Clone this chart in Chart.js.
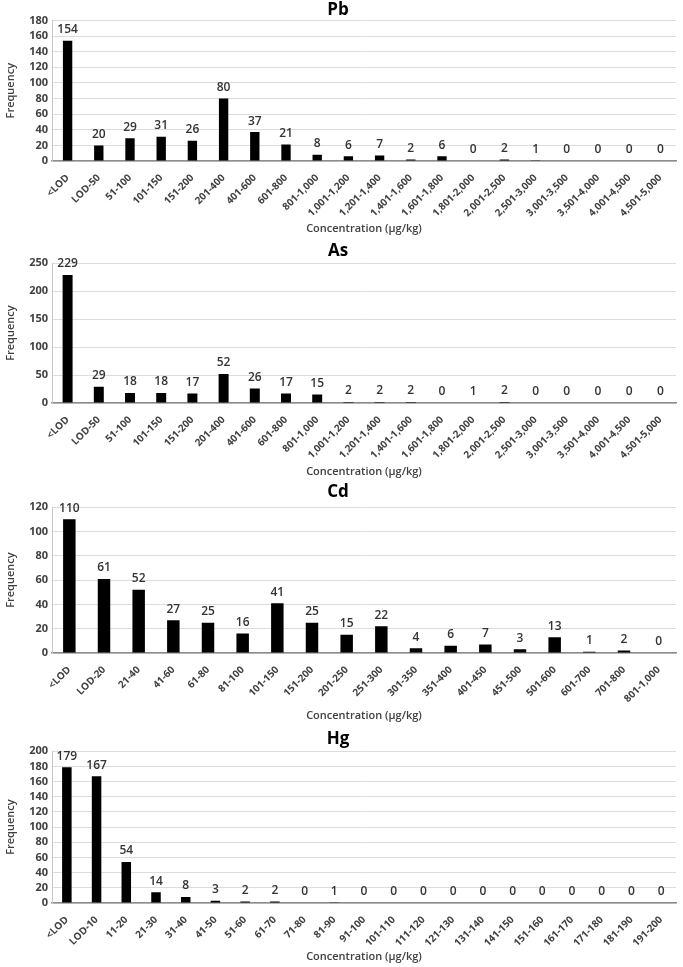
<!DOCTYPE html>
<html>
<head>
<meta charset="utf-8">
<script src="https://cdn.jsdelivr.net/npm/chart.js@4.4.1/dist/chart.umd.min.js"></script>
<style>
  html,body{margin:0;padding:0;background:#fff;}
  .panel{position:absolute;left:0;width:683px;}
</style>
</head>
<body>
<div class="panel" style="top:0;height:240px"><canvas id="pbChart"></canvas></div>
<div class="panel" style="top:240px;height:242px"><canvas id="asChart"></canvas></div>
<div class="panel" style="top:482px;height:245px"><canvas id="cdChart"></canvas></div>
<div class="panel" style="top:727px;height:240px"><canvas id="hgChart"></canvas></div>
<script>
// bins shared by Pb and As
const pbAsBins = ['<LOD','LOD-50','51-100','101-150','151-200','201-400','401-600','601-800','801-1,000','1,001-1,200','1,201-1,400','1,401-1,600','1,601-1,800','1,801-2,000','2,001-2,500','2,501-3,000','3,001-3,500','3,501-4,000','4,001-4,500','4,501-5,000'];
const pbCounts = [154,20,29,31,26,80,37,21,8,6,7,2,6,0,2,1,0,0,0,0];
const asCounts = [229,29,18,18,17,52,26,17,15,2,2,2,0,1,2,0,0,0,0,0];

const cdBins = ['<LOD','LOD-20','21-40','41-60','61-80','81-100','101-150','151-200','201-250','251-300','301-350','351-400','401-450','451-500','501-600','601-700','701-800','801-1,000'];
const cdCounts = [110,61,52,27,25,16,41,25,15,22,4,6,7,3,13,1,2,0];

const hgBins = ['<LOD','LOD-10','11-20','21-30','31-40','41-50','51-60','61-70','71-80','81-90','91-100','101-110','111-120','121-130','131-140','141-150','151-160','161-170','171-180','181-190','191-200'];
const hgCounts = [179,167,54,14,8,3,2,2,0,1,0,0,0,0,0,0,0,0,0,0,0];

const pbTicks = [0,20,40,60,80,100,120,140,160,180];
const asTicks = [0,50,100,150,200,250];
const cdTicks = [0,20,40,60,80,100,120];
const hgTicks = [0,20,40,60,80,100,120,140,160,180,200];

const xTitle = 'Concentration (µg/kg)';
const yTitle = 'Frequency';

Chart.defaults.font.family = '"Open Sans", sans-serif';
Chart.defaults.color = '#404040';

const valueLabels = {
  id:'valueLabels',
  afterDatasetsDraw(chart){
    const ctx = chart.ctx;
    const meta = chart.getDatasetMeta(0);
    const vals = chart.data.datasets[0].data;
    ctx.save();
    ctx.font = '600 12px "Open Sans", sans-serif';
    ctx.fillStyle = '#333';
    ctx.textAlign = 'center';
    ctx.textBaseline = 'bottom';
    meta.data.forEach((bar,i)=>{ ctx.fillText(String(vals[i]), bar.x, bar.y - 5); });
    ctx.restore();
  }
};

function histChart(id, title, labels, data, ticks, lay){
  new Chart(document.getElementById(id),{
    type:'bar',
    data:{labels,datasets:[{data,backgroundColor:'#000',barPercentage:lay.bar,categoryPercentage:1}]},
    options:{
      responsive:true, maintainAspectRatio:false, animation:false,
      layout:{padding:{top:0,left:0,right:7,bottom:lay.pbot}},
      plugins:{
        legend:{display:false}, tooltip:{enabled:false},
        title:{display:true,text:title,color:'#000',font:{size:17,weight:'bold'},padding:lay.tpad}
      },
      scales:{
        x:{
          grid:{display:false},
          border:{color:'#8c8c8c',width:1.5},
          ticks:{maxRotation:45,minRotation:45,autoSkip:false,padding:3,font:{size:10,weight:'bold'},color:'#404040'},
          title:{display:true,text:xTitle,font:{size:11,weight:'600'},color:'#404040'},
          afterFit(s){ s.height = lay.xh; }
        },
        y:{
          min:0, max:ticks[ticks.length-1],
          afterBuildTicks(s){ s.ticks = ticks.map(v=>({value:v})); },
          grid:{color:'#dcdcdc',drawTicks:false},
          border:{color:'#c8c8c8'},
          ticks:{autoSkip:false,padding:4,font:{size:11,weight:'bold'},color:'#404040'},
          title:{display:true,text:yTitle,font:{size:11,weight:'600'},color:'#404040'},
          afterFit(s){ s.width = 52; }
        }
      }
    },
    plugins:[valueLabels]
  });
}

histChart('pbChart','Pb',pbAsBins,pbCounts,pbTicks,{tpad:{top:0,bottom:0},pbot:1,xh:78,bar:0.3});
histChart('asChart','As',pbAsBins,asCounts,asTicks,{tpad:{top:1.4,bottom:1.4},pbot:0,xh:79,bar:0.32});
histChart('cdChart','Cd',cdBins,cdCounts,cdTicks,{tpad:{top:0.4,bottom:4.4},pbot:1,xh:73,bar:0.36});
histChart('hgChart','Hg',hgBins,hgCounts,hgTicks,{tpad:{top:2.4,bottom:1.4},pbot:0,xh:64,bar:0.32});
</script>
</body>
</html>
